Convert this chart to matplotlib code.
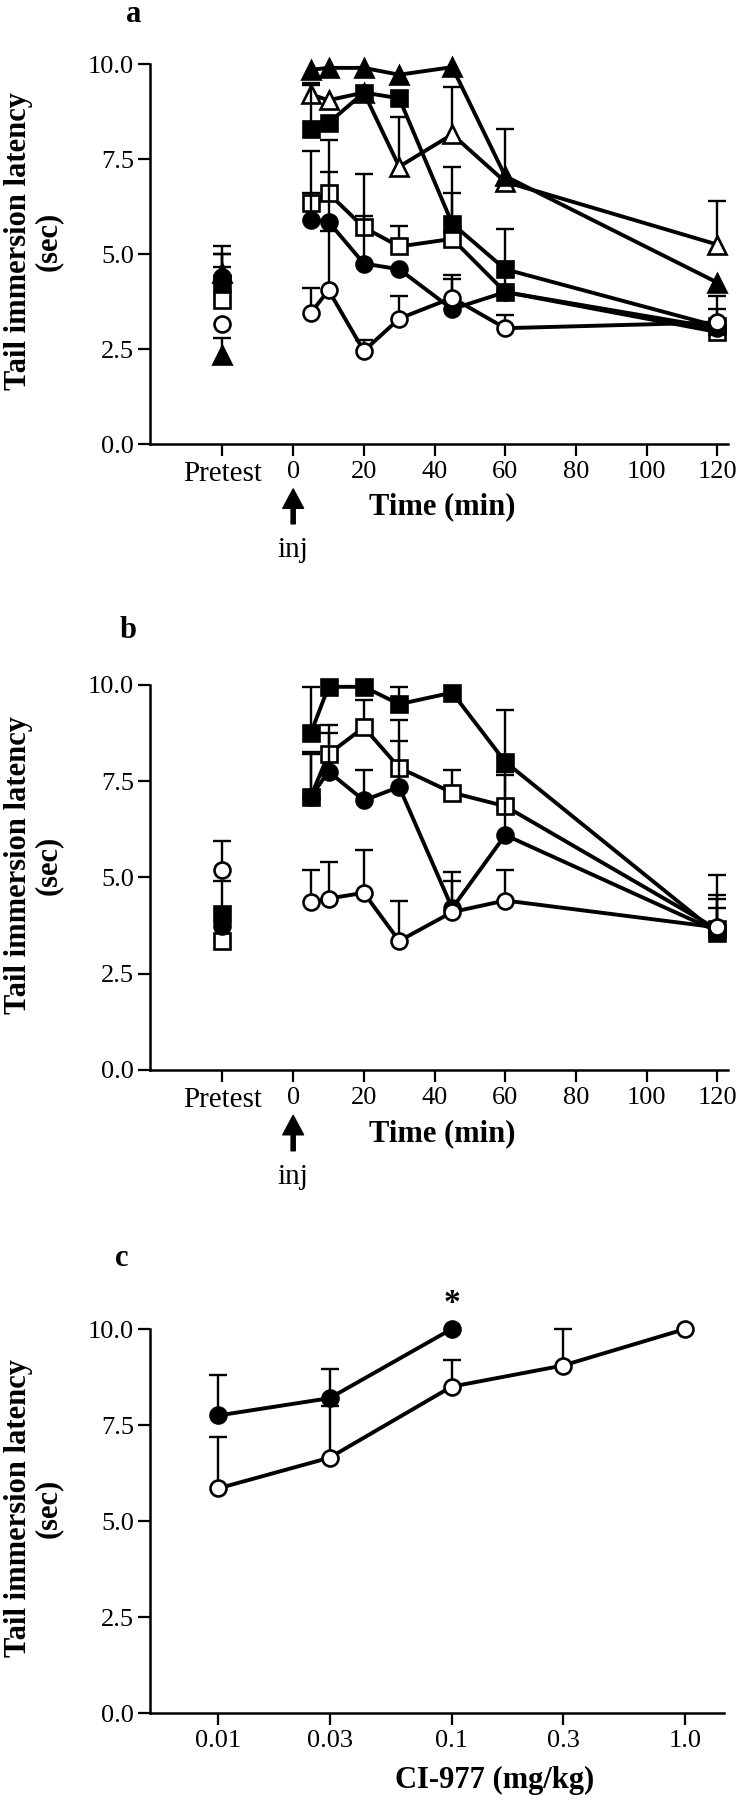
import numpy as np
import matplotlib
matplotlib.use("Agg")
import matplotlib.pyplot as plt

nan = np.nan

plt.rcParams.update({
    "font.family": ["Liberation Serif", "DejaVu Serif"],
    "font.size": 19,
    "axes.linewidth": 1.8,
    "xtick.major.width": 1.6,
    "ytick.major.width": 1.6,
    "xtick.major.size": 8.5,
    "ytick.major.size": 8.5,
    "xtick.major.pad": 4,
    "ytick.major.pad": 3,
    "axes.spines.top": False,
    "axes.spines.right": False,
})

# tempos (min) e pretest
TIMES = [5, 10, 20, 30, 45, 60, 120]
PRE_X = -20
TIME_TICKS = [-20, 0, 20, 40, 60, 80, 100, 120]
TIME_LABELS = ["Pretest", "0", "20", "40", "60", "80", "100", "120"]
Y_TICKS = [0, 2.5, 5, 7.5, 10]
Y_LABELS = ["0.0", "2.5", "5.0", "7.5", "10.0"]

# painel a: (pretest, pretest_err, valores, topo do erro)
a_tri_f_pre, a_tri_f_pre_err = 2.35, 2.8
a_tri_f = [9.85, 9.9, 9.9, 9.72, 9.92, 7.05, 4.25]
a_tri_f_err = [nan, nan, nan, nan, nan, 8.3, nan]
a_tri_o_pre, a_tri_o_pre_err = 4.5, 5.0
a_tri_o = [9.2, 9.05, 9.25, 7.3, 8.15, 6.9, 5.25]
a_tri_o_err = [9.5, nan, nan, 8.6, 9.4, nan, 6.4]
a_sq_f_pre, a_sq_f_pre_err = 4.25, 4.65
a_sq_f = [8.3, 8.45, 9.25, 9.1, 5.8, 4.6, 3.1]
a_sq_f_err = [9.45, nan, nan, nan, 7.3, 5.65, 3.9]
a_sq_o_pre, a_sq_o_pre_err = 3.8, 5.0
a_sq_o = [6.35, 6.6, 5.7, 5.2, 5.4, 4.0, 2.95]
a_sq_o_err = [7.7, 7.15, 6.0, 5.75, 6.6, nan, 3.55]
a_ci_f_pre, a_ci_f_pre_err = 4.4, 5.2
a_ci_f = [5.9, 5.85, 4.75, 4.6, 3.55, 4.0, 3.05]
a_ci_f_err = [6.6, 8.0, 7.1, nan, 4.45, 4.8, nan]
a_ci_o_pre, a_ci_o_pre_err = 3.15, nan
a_ci_o = [3.45, 4.05, 2.45, 3.3, 3.85, 3.05, 3.2]
a_ci_o_err = [4.1, 5.6, 2.75, 3.9, 4.35, 3.4, nan]

# painel b
b_sq_f_pre, b_sq_f_pre_err = 4.05, 4.9
b_sq_f = [8.75, 9.95, 9.95, 9.5, 9.8, 8.0, 3.55]
b_sq_f_err = [9.95, nan, nan, 9.95, nan, 9.35, 4.2]
b_sq_o_pre, b_sq_o_pre_err = 3.35, nan
b_sq_o = [7.1, 8.2, 8.9, 7.85, 7.2, 6.85, 3.65]
b_sq_o_err = [8.25, 8.95, 9.6, 9.1, 7.8, 7.75, 4.55]
b_ci_f_pre, b_ci_f_pre_err = 3.75, nan
b_ci_f = [7.1, 7.75, 7.0, 7.35, 4.2, 6.1, 3.6]
b_ci_f_err = [8.2, 8.75, 7.8, 8.55, 5.15, 7.65, 4.45]
b_ci_o_pre, b_ci_o_pre_err = 5.2, 5.95
b_ci_o = [4.35, 4.45, 4.6, 3.35, 4.1, 4.4, 3.7]
b_ci_o_err = [5.2, 5.4, 5.7, 4.4, 4.9, 5.2, 5.05]

# painel c
DOSES = [0.01, 0.03, 0.1, 0.3, 1.0]
DOSE_LABELS = ["0.01", "0.03", "0.1", "0.3", "1.0"]
c_f = [7.75, 8.2, 10.0]
c_f_err = [8.8, 8.95, nan]
c_o = [5.85, 6.65, 8.5, 9.05, 10.0]
c_o_err = [7.2, 8.0, 9.2, 10.0, nan]


def errs(ax, x, y, top, z):
    x, y, top = (np.asarray(v, float) for v in (x, y, top))
    m = ~np.isnan(top)
    if not m.any():
        return
    ax.vlines(x[m], y[m], top[m], color="k", lw=1.7, zorder=z - 0.5, clip_on=False)
    ax.plot(x[m], top[m], ls="none", marker="_", ms=13, mew=1.7, color="k",
            zorder=z - 0.5, clip_on=False)


def series(ax, x, y, top, marker, filled, z, line=True):
    errs(ax, x, y, top, z)
    ax.plot(x, y, "-" if line else "none", marker=marker,
            ms=11.5 if marker != "^" else 12.5,
            mfc="k" if filled else "w", mec="k", mew=1.9, color="k", lw=2.8,
            zorder=z, clip_on=False)


def time_axes(ax):
    ax.set_xlim(-40.5, 123)
    ax.set_ylim(0, 10)
    ax.set_xticks(TIME_TICKS)
    ax.set_xticklabels(TIME_LABELS)
    ax.get_xticklabels()[0].set_fontsize(21)
    ax.set_yticks(Y_TICKS)
    ax.set_yticklabels(Y_LABELS)
    ax.text(0.505, -0.165, "Time (min)", transform=ax.transAxes, ha="center",
            va="center", fontsize=22, fontweight="bold")
    ax.annotate("", xy=(0, -0.118), xycoords=("data", "axes fraction"),
                xytext=(0, -0.21), textcoords=("data", "axes fraction"),
                arrowprops=dict(width=3, headwidth=15, headlength=14,
                                facecolor="k", edgecolor="k"),
                annotation_clip=False)
    ax.text(0, -0.278, "inj", transform=ax.get_xaxis_transform(), ha="center",
            va="center", fontsize=21)


def ylab(fig, yc):
    fig.text(0.045, yc, "Tail immersion latency\n(sec)", rotation=90,
             ha="center", va="center", fontsize=22, fontweight="bold",
             linespacing=1.05, multialignment="center")


fig = plt.figure(figsize=(7.39, 18.0), dpi=100)

# ---- a
ax = fig.add_axes([0.203, 0.7533, 0.782, 0.2111])
groups = [
    (a_tri_o_pre, a_tri_o_pre_err, a_tri_o, a_tri_o_err, "^", False),
    (a_sq_o_pre, a_sq_o_pre_err, a_sq_o, a_sq_o_err, "s", False),
    (a_sq_f_pre, a_sq_f_pre_err, a_sq_f, a_sq_f_err, "s", True),
    (a_tri_f_pre, a_tri_f_pre_err, a_tri_f, a_tri_f_err, "^", True),
    (a_ci_f_pre, a_ci_f_pre_err, a_ci_f, a_ci_f_err, "o", True),
    (a_ci_o_pre, a_ci_o_pre_err, a_ci_o, a_ci_o_err, "o", False),
]
for i, (p, pe, v, ve, mk, fl) in enumerate(groups):
    z = 3 + i
    series(ax, [PRE_X], [p], [pe], mk, fl, z, line=False)
    series(ax, TIMES, v, ve, mk, fl, z)
time_axes(ax)
ylab(fig, 1 - 241 / 1800)
fig.text(134 / 739, 1 - 14 / 1800, "a", ha="center", va="center",
         fontsize=22, fontweight="bold")

# ---- b
ax = fig.add_axes([0.203, 0.4056, 0.782, 0.2139])
groups = [
    (b_sq_o_pre, b_sq_o_pre_err, b_sq_o, b_sq_o_err, "s", False),
    (b_sq_f_pre, b_sq_f_pre_err, b_sq_f, b_sq_f_err, "s", True),
    (b_ci_f_pre, b_ci_f_pre_err, b_ci_f, b_ci_f_err, "o", True),
    (b_ci_o_pre, b_ci_o_pre_err, b_ci_o, b_ci_o_err, "o", False),
]
for i, (p, pe, v, ve, mk, fl) in enumerate(groups):
    z = 3 + i
    series(ax, [PRE_X], [p], [pe], mk, fl, z, line=False)
    series(ax, TIMES, v, ve, mk, fl, z)
time_axes(ax)
ylab(fig, 1 - 865 / 1800)
fig.text(128 / 739, 1 - 630 / 1800, "b", ha="center", va="center",
         fontsize=22, fontweight="bold")

# ---- c
ax = fig.add_axes([0.203, 0.04833, 0.7767, 0.2133])
ax.set_xscale("log")
series(ax, DOSES[:3], c_f, c_f_err, "o", True, 4)
series(ax, DOSES, c_o, c_o_err, "o", False, 5)
ax.set_xlim(0.0051, 1.47)
ax.set_ylim(0, 10)
ax.set_xticks(DOSES)
ax.set_xticklabels(DOSE_LABELS)
ax.xaxis.set_minor_locator(plt.NullLocator())
ax.set_yticks(Y_TICKS)
ax.set_yticklabels(Y_LABELS)
ax.text(0.1, 10.67, "*", ha="center", va="center", fontsize=24,
        fontweight="bold", clip_on=False)
ax.text(0.60, -0.175, "CI-977 (mg/kg)", transform=ax.transAxes, ha="center",
        va="center", fontsize=22, fontweight="bold")
ylab(fig, 1 - 1508 / 1800)
fig.text(122 / 739, 1 - 1258 / 1800, "c", ha="center", va="center",
         fontsize=22, fontweight="bold")

fig.savefig("out.png", dpi=100)
